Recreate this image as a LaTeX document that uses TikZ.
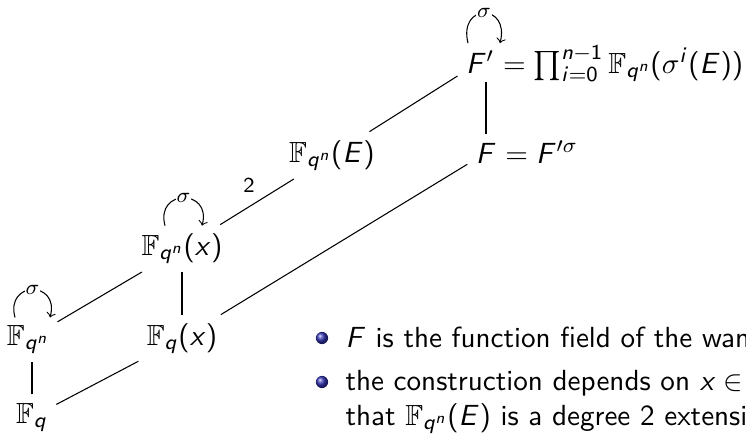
\documentclass[tikz,border=0pt,11pt]{standalone}
\usepackage{amssymb}
\usetikzlibrary{calc}
\renewcommand{\familydefault}{\sfdefault}
\DeclareSymbolFont{sfit}{OT1}{cmss}{m}{sl}
\DeclareSymbolFont{sfup}{OT1}{cmss}{m}{n}
\DeclareMathSymbol{F}{\mathalpha}{sfit}{`F}
\DeclareMathSymbol{E}{\mathalpha}{sfit}{`E}
\DeclareMathSymbol{q}{\mathalpha}{sfit}{`q}
\DeclareMathSymbol{n}{\mathalpha}{sfit}{`n}
\DeclareMathSymbol{x}{\mathalpha}{sfit}{`x}
\DeclareMathSymbol{i}{\mathalpha}{sfit}{`i}
\DeclareMathSymbol{0}{\mathalpha}{sfup}{`0}
\DeclareMathSymbol{1}{\mathalpha}{sfup}{`1}
\DeclareMathSymbol{(}{\mathopen}{sfup}{"28}
\DeclareMathSymbol{)}{\mathclose}{sfup}{"29}
\definecolor{beamerblue}{rgb}{0.2,0.2,0.7}
\begin{document}
\begin{tikzpicture}[x=0.376pt,y=-0.376pt,
  fld/.style={inner sep=3pt, anchor=base},
  rest/.style={inner sep=0pt, anchor=base west},
  conn/.style={line width=0.4pt},
  loopar/.style={->, line width=0.4pt},
  sig/.style={font=\scriptsize, fill=white, inner sep=0.3pt},
  lbl/.style={font=\scriptsize, inner sep=0pt},
  bul/.style={ball color=beamerblue},
  itemtext/.style={anchor=base west, inner sep=0pt}]
\useasboundingbox (0,0) rectangle (746,441);
\clip (0,0) rectangle (746,441);
% nodes
\node[fld] (Fq)   at (32,423)  {$\mathbb{F}_q$};
\node[fld] (Fqn)  at (28,345)  {$\mathbb{F}_{q^n}$};
\node[fld] (Fqx)  at (182,345) {$\mathbb{F}_q(x)$};
\node[fld] (Fqnx) at (182,255) {$\mathbb{F}_{q^n}(x)$};
\node[fld] (FqnE) at (332,162) {$\mathbb{F}_{q^n}(E)$};
\node[fld] (F)    at (486,163) {$F$};
\node[fld] (Fp)   at (480,73)  {$F'$};
\node[rest] (Frest)  at ([xshift=-3pt]F.base east)  {$\;=F'^{\sigma}$};
\node[rest] (Fprest) at ([xshift=-3pt]Fp.base east) {$\;=\prod_{i=0}^{n-1}\mathbb{F}_{q^n}(\sigma^i(E))$};
% connectors
\draw[conn] (Fq) -- (Fqx);
\draw[conn] (Fq.north -| 32,0) -- (Fqn.south -| 32,0);
\draw[conn] (Fqn) -- (Fqnx);
\draw[conn] (Fqx) -- (Fqnx);
\draw[conn] (Fqx) -- (F);
\draw[conn] (Fqnx) -- (FqnE);
\node[lbl] (two) at (249,185) {2};
\draw[conn] (FqnE) -- (Fp);
\draw[conn] (F.north) -- (F.north |- Fp.south);
% loops
\draw[loopar] ($(Fqn.north)+(-13,1)$) .. controls +(-10,-37) and +(10,-37) .. node[sig, pos=0.5] {$\sigma$} ($(Fqn.north)+(22,1)$);
\draw[loopar] ($(Fqnx.north)+(-17,1)$) .. controls +(-10,-37) and +(10,-37) .. node[sig, pos=0.5] {$\sigma$} ($(Fqnx.north)+(20,1)$);
\draw[loopar] ($(Fp.north)+(-12,1)$) .. controls +(-10,-40) and +(10,-40) .. node[sig, pos=0.5] {$\sigma$} ($(Fp.north)+(20,1)$);
% bullet list
\shade[bul] (322,338) circle[radius=2.3pt];
\shade[bul] (322,382) circle[radius=2.3pt];
\node[itemtext] (t1) at (345,347) {$F$ is the function field of the wan};
\node[itemtext] (t2) at (345,390) {the construction depends on $x\in$};
\node[itemtext] (t3) at (345,425) {that $\mathbb{F}_{q^n}(E)$ is a degree 2 extensi};
\end{tikzpicture}
\end{document}
